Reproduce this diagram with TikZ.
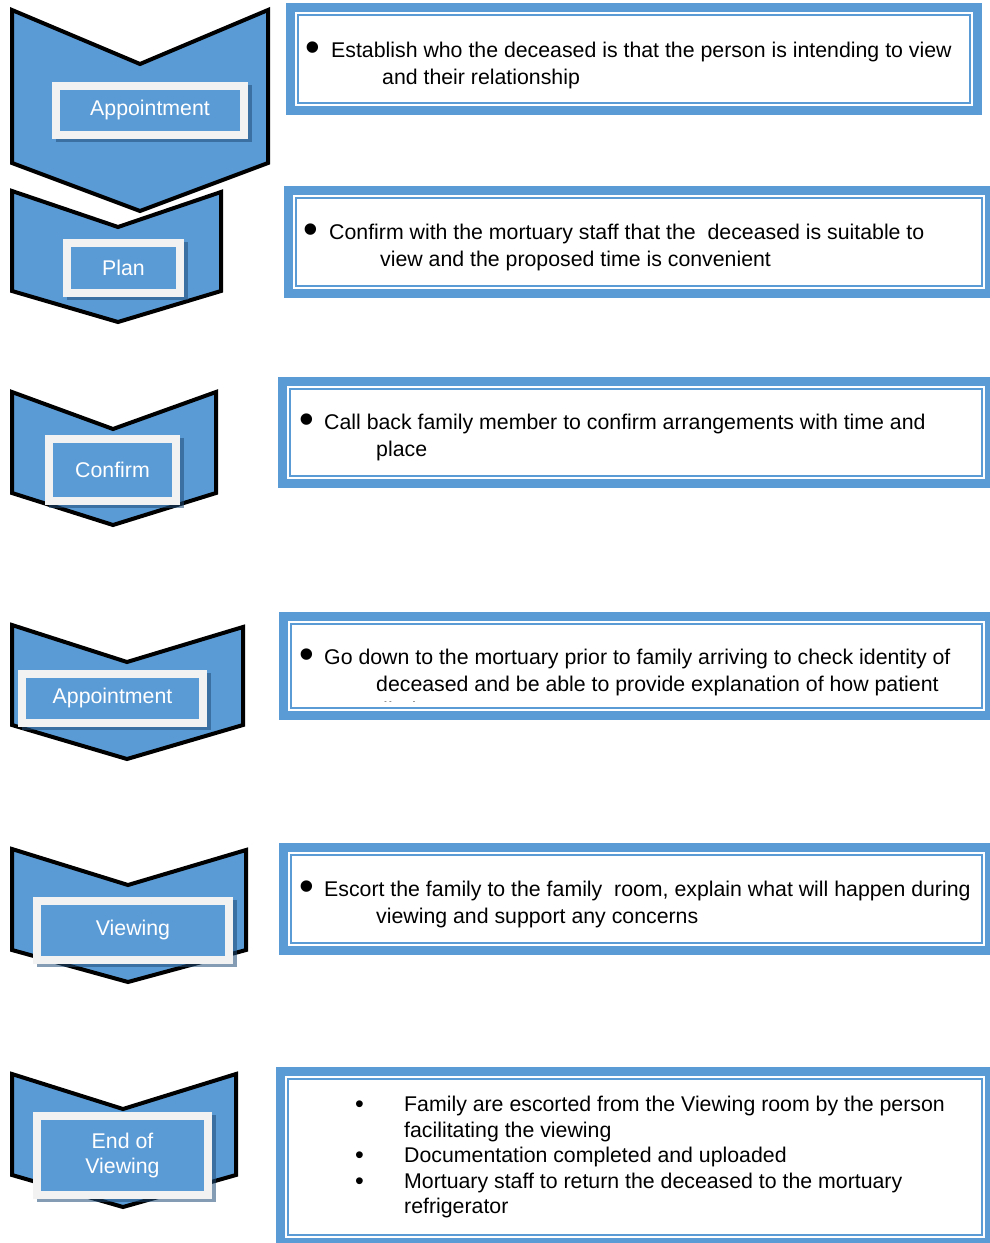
\documentclass[tikz,border=0pt]{standalone}
\usepackage{fontspec}
\setmainfont{Liberation Sans}
\definecolor{mblue}{HTML}{5B9BD5}
\definecolor{sblue}{HTML}{1F4E79}
\definecolor{lwhite}{HTML}{F2F2F2}
\tikzset{
  chev/.style={fill=mblue, draw=black, line width=4pt, miter limit=10},
  lblshadow/.style={fill=sblue, fill opacity=0.55, draw=none},
  lblbox/.style={fill=mblue, draw=lwhite, line width=8pt, text=white,
    font=\fontsize{21.3}{25}\selectfont, align=center, inner sep=0pt},
  outerband/.style={draw=mblue, line width=9pt},
  innerline/.style={draw=mblue, line width=2pt},
  body/.style={font=\fontsize{21.3}{27}\selectfont, anchor=base west, inner sep=0pt, text=black},
  bigbullet/.style={font=\fontsize{42}{42}\selectfont, anchor=base west, inner sep=0pt, text=black},
  smallbullet/.style={font=\fontsize{25}{27}\selectfont, anchor=base west, inner sep=0pt, text=black},
}
\newcommand\textframe[4]{%
  \fill[white] (#1,#2) rectangle (#3,#4);
  \draw[outerband] (#1+4.5,#2+4.5) rectangle (#3-4.5,#4-4.5);
  \draw[innerline] (#1+12,#2+12) rectangle (#3-12,#4-12);}
\newcommand\chevlabel[6]{%
  \fill[lblshadow] (#2+0,#3+1) rectangle (#4+8,#5+9);
  \node[lblbox, minimum width={#4-#2}, minimum height={#5-#3}] (#1) at ({(#2+#4)/2},{(#3+#5)/2+1.5}) {#6};}
\begin{document}
\begin{tikzpicture}[x=1pt,y=-1pt]
\useasboundingbox (0,0) rectangle (990,1243);
\fill[white] (0,0) rectangle (990,1243);

% chevrons
\draw[chev] (12,191) -- (118,227) -- (221,192) -- (221,291) -- (118,322) -- (12,291) -- cycle;
\draw[chev] (12,10) -- (140,64) -- (268,10) -- (268,163) -- (140,211) -- (12,163) -- cycle;
\draw[chev] (12,392) -- (113,429) -- (216,392) -- (216,493) -- (113,525) -- (12,493) -- cycle;
\draw[chev] (12,625) -- (127,662) -- (243,627) -- (243,725) -- (127,759) -- (12,725) -- cycle;
\draw[chev] (12,849) -- (128,885) -- (246,850) -- (246,950) -- (128,982) -- (12,950) -- cycle;
\draw[chev] (12,1074) -- (123,1109) -- (236,1074) -- (236,1175) -- (123,1207) -- (12,1175) -- cycle;

% chevron labels
\chevlabel{l1}{56}{84}{244}{133}{Appointment}
\chevlabel{l2}{67}{241}{180}{291}{Plan}
\chevlabel{l3}{49}{437}{176}{499}{Confirm}
\chevlabel{l4}{22}{672}{203}{721}{Appointment}
\chevlabel{l5}{37}{899}{229}{958}{Viewing}
\chevlabel{l6}{37}{1114}{208}{1193}{End of\\Viewing}

% text frames
\textframe{286}{3}{982}{115}
\textframe{284}{186}{994}{298}
\textframe{278}{377}{994}{488}
\textframe{279}{612}{994}{720}
\textframe{279}{843}{994}{955}
\textframe{276}{1067}{994}{1247}

% box 1
\node[bigbullet] (b1) at (305,61) {•};
\node[body] (t1a) at (331,57) {Establish who the deceased is that the person is intending to view};
\node[body] (t1b) at (382,84) {and their relationship};
% box 2
\node[bigbullet] (b2) at (303,243) {•};
\node[body] (t2a) at (329,239) {Confirm with the mortuary staff that the\ \ deceased is suitable to};
\node[body] (t2b) at (380,266) {view and the proposed time is convenient};
% box 3
\node[bigbullet] (b3) at (299,433) {•};
\node[body] (t3a) at (324,429) {Call back family member to confirm arrangements with time and};
\node[body] (t3b) at (376,456) {place};
% box 4
\node[bigbullet] (b4) at (299,668) {•};
\node[body] (t4a) at (324,664) {Go down to the mortuary prior to family arriving to check identity of};
\node[body] (t4b) at (376,691) {deceased and be able to provide explanation of how patient};
\begin{scope}
  \clip (300,690) rectangle (980,701.5);
  \node[body] (t4c) at (376,717) {died};
\end{scope}
% box 5
\node[bigbullet] (b5) at (299,900) {•};
\node[body] (t5a) at (324,896) {Escort the family to the family\ \ room, explain what will happen during};
\node[body] (t5b) at (376,923) {viewing and support any concerns};
% box 6
\node[smallbullet] (b6a) at (355,1112) {•};
\node[smallbullet] (b6b) at (355,1163) {•};
\node[smallbullet] (b6c) at (355,1189) {•};
\node[body] (t6a) at (404,1111) {Family are escorted from the Viewing room by the person};
\node[body] (t6b) at (404,1137) {facilitating the viewing};
\node[body] (t6c) at (404,1162) {Documentation completed and uploaded};
\node[body] (t6d) at (404,1188) {Mortuary staff to return the deceased to the mortuary};
\node[body] (t6e) at (404,1213) {refrigerator};
\end{tikzpicture}
\end{document}
